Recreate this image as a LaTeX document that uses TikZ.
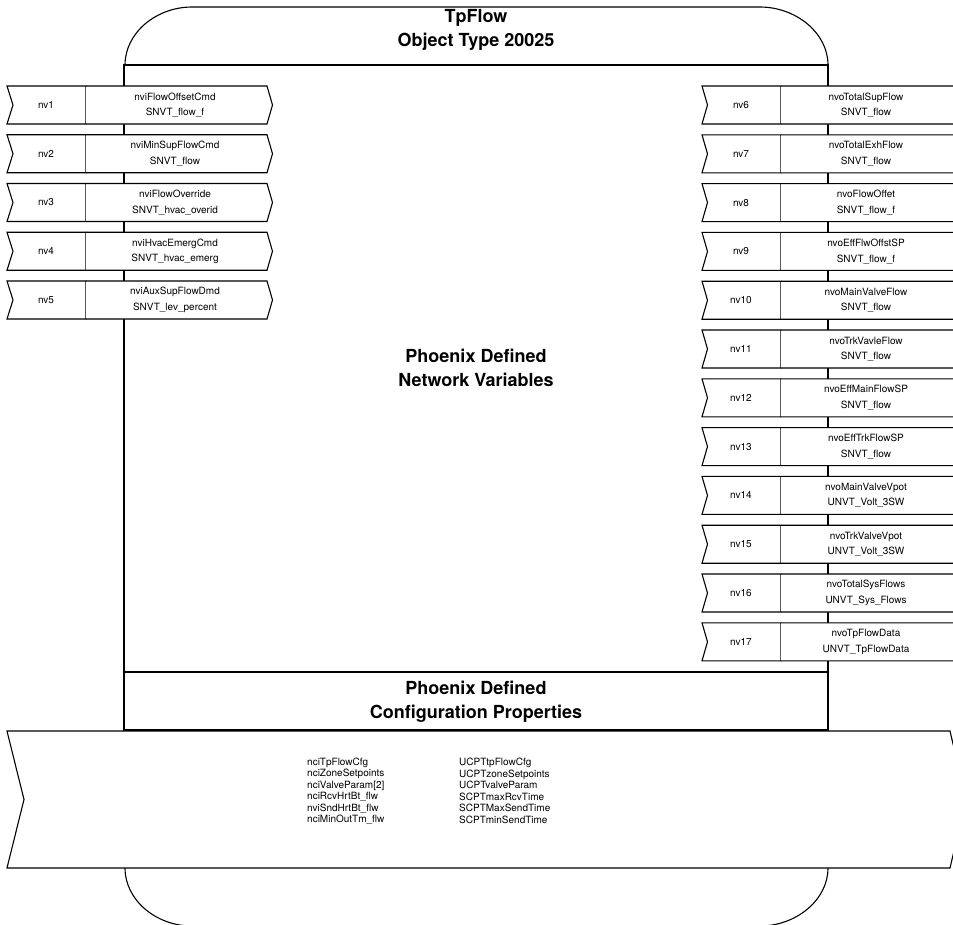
\documentclass[tikz,border=0pt]{standalone}
\usepackage{fontspec}
\setmainfont{TeX Gyre Heros}
\tikzset{
    hull/.style = {
      line width=1.1pt
    },
    cell/.style = {
      draw,
      line width=1.1pt,
      fill=white,
      line join=miter
    },
    nvlabel/.style = {
      font=\fontsize{10}{12}\selectfont,
      inner sep=0pt
    },
    nvname/.style = {
      font=\fontsize{10}{15.5}\selectfont,
      align=center,
      inner sep=0pt
    },
    heading/.style = {
      font=\bfseries\fontsize{18}{24}\selectfont,
      align=center,
      inner sep=0pt
    },
    cfglist/.style = {
      font=\fontsize{10}{11.5}\selectfont,
      align=left,
      anchor=west,
      inner sep=0pt
    }
}

\begin{document}
\begin{tikzpicture}[x=1pt, y=-1pt]
      \useasboundingbox (0,0) rectangle (953,924);
      \clip (0,0) rectangle (953,924);

      % rounded hull, top and bottom
      \draw[hull] (125,65) .. controls (125,33) and (156,7) .. (192,7)
        -- (760,7) .. controls (796,7) and (828,33) .. (828,65);
      \draw[hull] (125,868) .. controls (125,900) and (156,926) .. (192,926)
        -- (760,926) .. controls (796,926) and (828,900) .. (828,868);

      % object frame
      \draw[hull] (124,65) rectangle (828,730);
      \draw[hull] (124,672) -- (828,672);

      \node[heading] (T) at (476,30) {TpFlow\\Object Type 20025};
      \node[heading] (N) at (476,368) {Phoenix Defined\\Network Variables};
      \node[heading] (C) at (476,702) {Phoenix Defined\\Configuration Properties};

      % inputs
      \foreach \i/\nm/\tp in {1/nviFlowOffsetCmd/SNVT\_flow\_f,
                              2/nviMinSupFlowCmd/SNVT\_flow,
                              3/nviFlowOverride/SNVT\_hvac\_overid,
                              4/nviHvacEmergCmd/SNVT\_hvac\_emerg,
                              5/nviAuxSupFlowDmd/SNVT\_lev\_percent} {
        \pgfmathsetmacro\t{86+48.75*(\i-1)}
        \pgfmathsetmacro\m{\t+19}
        \pgfmathsetmacro\b{\t+38}
        \draw[cell] (7,\t) -- (86,\t) -- (86,\b) -- (7,\b) -- (13,\m) -- cycle;
        \draw[cell] (86,\t) -- (267,\t) -- (272.5,\m) -- (267,\b) -- (86,\b);
        \node[nvlabel] (L\i) at (46,\m) {nv\i};
        \node[nvname]  (V\i) at (175,\m) {\nm\\\tp};
      }

      % outputs
      \foreach \i/\nm/\tp in {6/nvoTotalSupFlow/SNVT\_flow,
                              7/nvoTotalExhFlow/SNVT\_flow,
                              8/nvoFlowOffet/SNVT\_flow\_f,
                              9/nvoEffFlwOffstSP/SNVT\_flow\_f,
                              10/nvoMainValveFlow/SNVT\_flow,
                              11/nvoTrkVavleFlow/SNVT\_flow,
                              12/nvoEffMainFlowSP/SNVT\_flow,
                              13/nvoEffTrkFlowSP/SNVT\_flow,
                              14/nvoMainValveVpot/UNVT\_Volt\_3SW,
                              15/nvoTrkValveVpot/UNVT\_Volt\_3SW,
                              16/nvoTotalSysFlows/UNVT\_Sys\_Flows,
                              17/nvoTpFlowData/UNVT\_TpFlowData} {
        \pgfmathsetmacro\t{86+48.8*(\i-6)}
        \pgfmathsetmacro\m{\t+19}
        \pgfmathsetmacro\b{\t+38}
        \draw[cell] (702,\t) -- (781,\t) -- (781,\b) -- (702,\b) -- (707.5,\m) -- cycle;
        \draw[cell] (781,\t) -- (956,\t) -- (962,\m) -- (956,\b) -- (781,\b);
        \node[nvlabel] (L\i) at (741,\m) {nv\i};
        \node[nvname]  (V\i) at (866,\m) {\nm\\\tp};
      }

      % configuration properties
      \draw[cell] (7,731) -- (950,731) -- (966,799.5) -- (950,868) -- (7,868) -- (24,799.5) -- cycle;
      \node[cfglist] (P) at (307,791) {nciTpFlowCfg\\nciZoneSetpoints\\nciValveParam[2]\\nciRcvHrtBt\_flw\\nviSndHrtBt\_flw\\nciMinOutTm\_flw};
      \node[cfglist] (S) at (459,791) {UCPTtpFlowCfg\\UCPTzoneSetpoints\\UCPTvalveParam\\SCPTmaxRcvTime\\SCPTMaxSendTime\\SCPTminSendTime};
\end{tikzpicture}
\end{document}
